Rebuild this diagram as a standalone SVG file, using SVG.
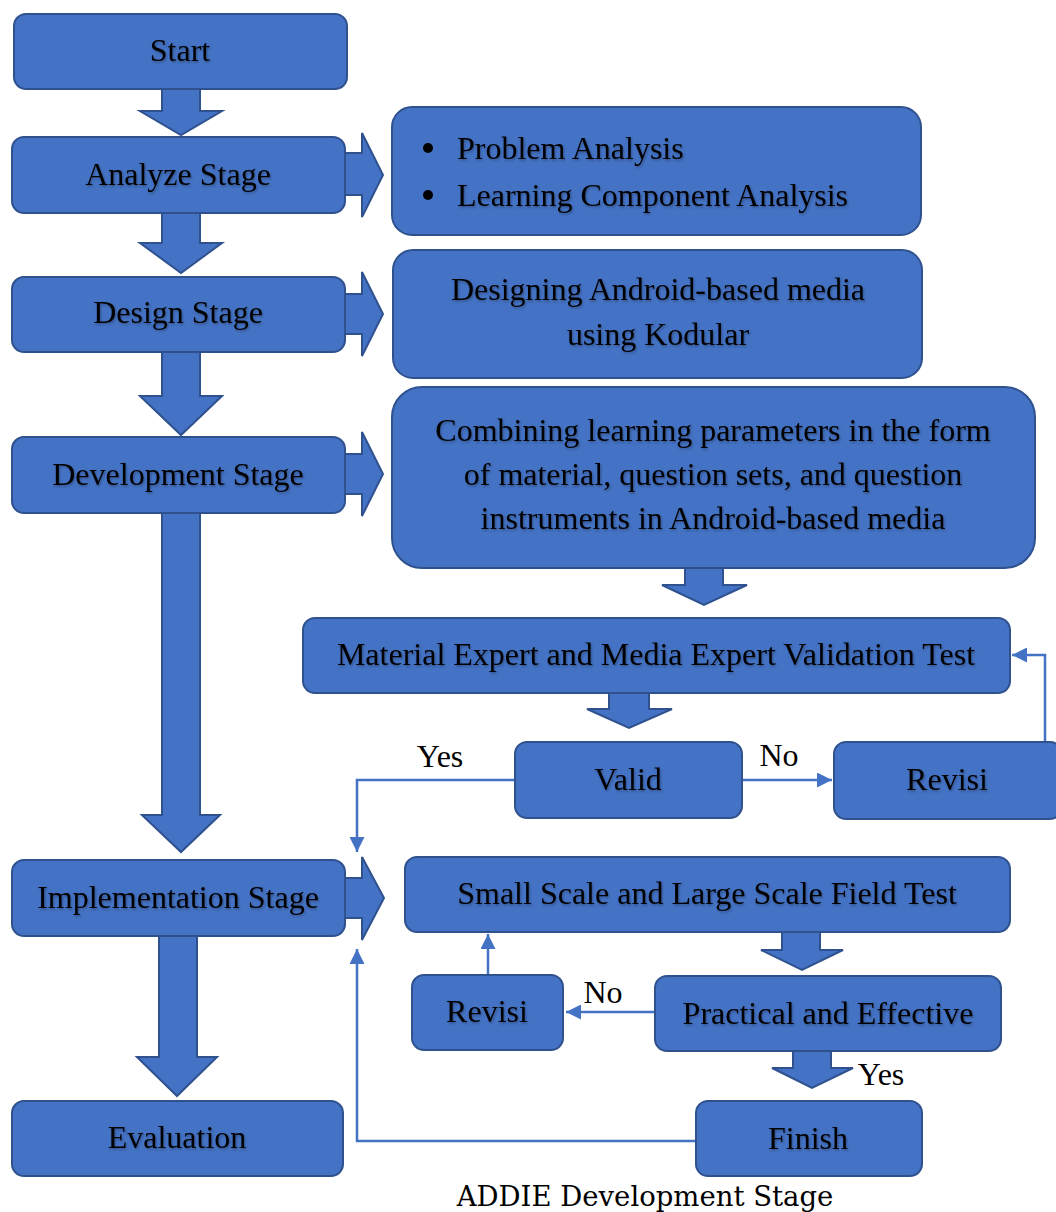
<svg xmlns="http://www.w3.org/2000/svg" width="1056" height="1212" viewBox="0 0 1056 1212">
<defs>
<style>
.box{fill:#4472C4;stroke:#2F528F;stroke-width:2}
.blk{fill:#4472C4;stroke:#2F528F;stroke-width:2;stroke-linejoin:miter}
.t{font-family:"Liberation Serif","Times New Roman",serif;font-size:32px;fill:#000;text-anchor:middle;filter:url(#sh)}
.tl{text-anchor:start}
.lbl{font-family:"Liberation Serif","Times New Roman",serif;font-size:32px;fill:#000;text-anchor:middle}
.cap{font-family:"DejaVu Serif",serif;font-size:27.5px;fill:#000;text-anchor:middle}
.ln{fill:none;stroke:#4472C4;stroke-width:2.5}
</style>
<filter id="sh" x="-5%" y="-20%" width="110%" height="140%">
<feDropShadow dx="1" dy="1.5" stdDeviation="1" flood-color="#000" flood-opacity="0.3"/>
</filter>
<marker id="ah" viewBox="0 0 10 10" refX="10" refY="5" markerWidth="6" markerHeight="6" markerUnits="strokeWidth" orient="auto">
<path d="M0,0 L10,5 L0,10 Z" fill="#4472C4"/>
</marker>
</defs>

<g id="connectors">
<path class="blk" d="M162,89 L200,89 L200,111 L222,111 L181,135 L140,111 L162,111 Z"/>
<path class="blk" d="M162,213 L200,213 L200,243 L222,243 L181,273 L140,243 L162,243 Z"/>
<path class="blk" d="M162,352 L200,352 L200,396 L222,396 L181,435 L140,396 L162,396 Z"/>
<path class="blk" d="M162,513 L200,513 L200,815 L220,815 L181,852 L142,815 L162,815 Z"/>
<path class="blk" d="M159,936 L197,936 L197,1057 L217,1057 L177,1096 L137,1057 L159,1057 Z"/>
<path class="blk" d="M345,153 L362,153 L362,133 L383,175 L362,217 L362,195 L345,195 Z"/>
<path class="blk" d="M345,294 L362,294 L362,272 L383,314 L362,356 L362,334 L345,334 Z"/>
<path class="blk" d="M345,454 L362,454 L362,432 L383,474 L362,516 L362,494 L345,494 Z"/>
<path class="blk" d="M345,878 L362,878 L362,857 L384,898 L362,940 L362,918 L345,918 Z"/>
<path class="blk" d="M685,568 L723,568 L723,585 L747,585 L704,605 L662,585 L685,585 Z"/>
<path class="blk" d="M609,693 L649,693 L649,709 L672,709 L629,728 L587,709 L609,709 Z"/>
<path class="blk" d="M782,932 L820,932 L820,950 L843,950 L802,970 L761,950 L782,950 Z"/>
<path class="blk" d="M793,1051 L831,1051 L831,1068 L853,1068 L812,1088 L772,1068 L793,1068 Z"/>
<path class="ln" d="M743,780 L832,780" marker-end="url(#ah)"/>
<path class="ln" d="M1045,742 L1045,655 L1012,655" marker-end="url(#ah)"/>
<path class="ln" d="M515,780 L357,780 L357,852" marker-end="url(#ah)"/>
<path class="ln" d="M655,1012 L566,1012" marker-end="url(#ah)"/>
<path class="ln" d="M488,975 L488,934" marker-end="url(#ah)"/>
<path class="ln" d="M696,1141 L357,1141 L357,949" marker-end="url(#ah)"/>
<text class="lbl" x="440" y="767">Yes</text>
<text class="lbl" x="779" y="766">No</text>
<text class="lbl" x="603" y="1003">No</text>
<text class="lbl" x="881" y="1085">Yes</text>
</g>

<g id="start"><rect class="box" x="14" y="14" width="333" height="75" rx="12"/><text class="t" x="180" y="61">Start</text></g>
<g id="analyze"><rect class="box" x="12" y="137" width="333" height="76" rx="12"/><text class="t" x="178" y="185">Analyze Stage</text></g>
<g id="analysis"><rect class="box" x="392" y="107" width="529" height="128" rx="20"/>
<circle cx="428" cy="148" r="5" fill="#000"/><circle cx="428" cy="195" r="5" fill="#000"/>
<text class="t tl" x="457" y="159">Problem Analysis</text><text class="t tl" x="457" y="206">Learning Component Analysis</text></g>
<g id="design"><rect class="box" x="12" y="277" width="333" height="75" rx="12"/><text class="t" x="178" y="323">Design Stage</text></g>
<g id="designing"><rect class="box" x="393" y="250" width="529" height="128" rx="20"/><text class="t" x="658" y="300">Designing Android-based media</text><text class="t" x="658" y="345">using Kodular</text></g>
<g id="development"><rect class="box" x="12" y="437" width="333" height="76" rx="12"/><text class="t" x="178" y="485">Development Stage</text></g>
<g id="combining"><rect class="box" x="392" y="387" width="643" height="181" rx="30"/>
<text class="t" x="713" y="441">Combining learning parameters in the form</text>
<text class="t" x="713" y="485">of material, question sets, and question</text>
<text class="t" x="713" y="529">instruments in Android-based media</text></g>
<g id="validation"><rect class="box" x="303" y="618" width="707" height="75" rx="12"/><text class="t" x="656" y="665">Material Expert and Media Expert Validation Test</text></g>
<g id="valid"><rect class="box" x="515" y="742" width="227" height="76" rx="12"/><text class="t" x="628" y="790">Valid</text></g>
<g id="revisi1"><rect class="box" x="834" y="742" width="228" height="77" rx="12"/><text class="t" x="947" y="790">Revisi</text></g>
<g id="implementation"><rect class="box" x="12" y="860" width="333" height="76" rx="12"/><text class="t" x="178" y="908">Implementation Stage</text></g>
<g id="fieldtest"><rect class="box" x="405" y="857" width="605" height="75" rx="12"/><text class="t" x="707" y="904">Small Scale and Large Scale Field Test</text></g>
<g id="revisi2"><rect class="box" x="412" y="975" width="151" height="75" rx="12"/><text class="t" x="487" y="1022">Revisi</text></g>
<g id="practical"><rect class="box" x="655" y="976" width="346" height="75" rx="12"/><text class="t" x="828" y="1024">Practical and Effective</text></g>
<g id="evaluation"><rect class="box" x="12" y="1101" width="331" height="75" rx="12"/><text class="t" x="177" y="1148">Evaluation</text></g>
<g id="finish"><rect class="box" x="696" y="1101" width="226" height="75" rx="12"/><text class="t" x="808" y="1149">Finish</text></g>
<text class="cap" x="645" y="1206">ADDIE Development Stage</text>
</svg>
